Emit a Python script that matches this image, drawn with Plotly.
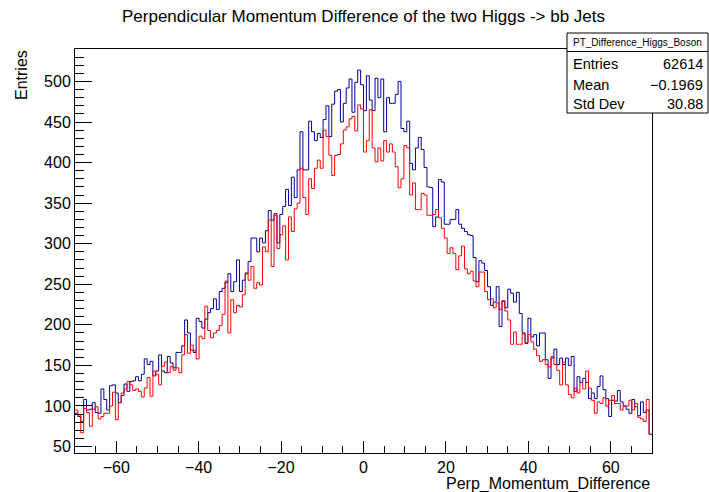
import numpy as np
import plotly.graph_objects as go

# ---------------- data ----------------
x_min, x_max, n_bins = -70.0, 70.0, 200

blue_counts = [
    91, 87, 81, 108, 95, 96, 104, 92, 91, 121,
    108, 95, 125, 126, 116, 104, 113, 127, 118, 130,
    131, 136, 131, 139, 158, 151, 155, 137, 143, 163,
    143, 141, 161, 153, 147, 166, 166, 174, 206, 190,
    169, 166, 208, 204, 196, 207, 215, 220, 232, 219,
    241, 245, 252, 263, 241, 253, 280, 241, 255, 263,
    278, 307, 307, 290,
    307, 301, 316, 341, 329, 337, 301, 336, 346, 367,
    347, 382, 357, 391, 438, 391, 391, 451, 438, 427,
    436, 431, 453, 470, 432, 472, 488, 490, 450, 473,
    492, 503, 462, 499, 514,
    496, 464, 507, 477, 464, 504, 480, 503, 438, 480,
    473, 473, 484, 500, 442, 438, 451, 399, 391, 418,
    431, 416, 394, 370, 369, 321, 333, 379, 376, 324,
    324, 330, 330, 342, 324,
    319, 315, 311, 310, 283, 253, 279, 276, 267, 247,
    224, 228, 247, 198, 229, 221, 244, 239, 228, 240,
    214, 190, 177, 208, 185, 188, 174, 190, 190, 157,
    134, 159, 170, 151, 159, 151, 159, 150, 161, 118,
    136, 129, 134, 129, 109, 116, 109, 124, 137, 120,
    109, 87, 107, 106, 119, 105, 100, 96, 91, 108,
    99, 88, 105, 92, 95, 65,
]

red_counts = [
    95, 89, 67, 97, 92, 75, 96, 99, 84, 87,
    91, 91, 100, 117, 83, 104, 116, 121, 130, 126,
    119, 121, 118, 111, 122, 135, 112, 143, 139, 126,
    149, 154, 141, 149, 144, 147, 141, 163, 188, 165,
    175, 168, 158, 186, 183, 223, 193, 184, 190, 193,
    199, 213, 254, 190, 231, 215, 224, 222, 237, 264,
    255, 272, 245, 252,
    249, 296, 290, 329, 272, 335, 294, 311, 322, 280,
    333, 315, 343, 350, 393, 357, 336, 380, 368, 393,
    403, 393, 440, 432, 409, 384, 409, 410, 423, 440,
    444, 454, 457, 439,
    471, 466, 413, 427, 465, 418, 401, 418, 402, 427,
    413, 423, 413, 395, 369, 380, 421, 418, 360, 375,
    342, 342, 362, 360, 335, 335, 336, 342, 332, 319,
    307, 288, 295, 288, 268, 285,
    297, 269, 263, 266, 254, 247, 265, 265, 241, 231,
    232, 221, 227, 219, 230, 217, 206, 176, 191, 176,
    176, 189, 178, 188, 179, 170, 162, 155, 157, 151,
    148, 161, 151, 144, 126, 154, 126, 114, 110, 122,
    116, 129, 121, 143, 122, 107, 91, 105, 103, 110,
    100, 107, 113, 103, 103, 95, 100, 100, 107, 95,
    103, 86, 84, 81, 108, 65,
]

x_tick_vals = [-60, -40, -20, 0, 20, 40, 60]
y_tick_vals = [50, 100, 150, 200, 250, 300, 350, 400, 450, 500]

title_text = "Perpendicular Momentum Difference of the two Higgs -> bb Jets"
x_title = "Perp_Momentum_Difference"
y_title = "Entries"
stats_name = "PT_Difference_Higgs_Boson"
stats_labels = ["Entries", "Mean", "Std Dev"]
stats_values = ["62614", "\u22120.1969", "30.88"]

# ---------------- figure ----------------
edges = np.linspace(x_min, x_max, n_bins + 1)


def step_points(counts):
    return list(edges), list(counts) + [counts[-1]]


FONT = "Liberation Sans, Arial, Helvetica, sans-serif"

fig = go.Figure()
bx, by = step_points(blue_counts)
fig.add_trace(go.Scatter(x=bx, y=by, mode="lines", line_shape="hv",
                         line=dict(color="#000099", width=1), hoverinfo="skip"))
rx, ry = step_points(red_counts)
fig.add_trace(go.Scatter(x=rx, y=ry, mode="lines", line_shape="hv",
                         line=dict(color="#ff0000", width=1), hoverinfo="skip"))

L, R, T, B = 75, 652, 49, 453
W, H = 709, 492
pw, ph = R - L, B - T


def px_x(px):
    return (px - L) / pw


def px_y(py):
    return (B - py) / ph


fig.update_layout(
    width=W, height=H,
    margin=dict(l=L, r=W - R, t=T, b=H - B, pad=0),
    plot_bgcolor="white", paper_bgcolor="white",
    showlegend=False,
    font=dict(family=FONT, color="black", size=16),
)

fig.update_xaxes(
    range=[x_min, x_max], tickvals=x_tick_vals,
    ticks="inside", ticklen=12, tickwidth=1, tickcolor="black",
    minor=dict(dtick=5, tick0=0, ticks="inside", ticklen=7, tickcolor="black", tickwidth=1),
    showline=True, linecolor="black", linewidth=1, mirror=True,
    showgrid=False, zeroline=False, tickfont=dict(size=16, family=FONT),
)
fig.update_yaxes(
    range=[42, 540], tickvals=y_tick_vals,
    ticks="inside", ticklen=17, tickwidth=1, tickcolor="black",
    minor=dict(dtick=10, tick0=0, ticks="inside", ticklen=9, tickcolor="black", tickwidth=1),
    showline=True, linecolor="black", linewidth=1, mirror=True,
    showgrid=False, zeroline=False, tickfont=dict(size=16, family=FONT),
)

annotations = [
    dict(text=title_text, xref="paper", yref="paper", x=px_x(363), y=px_y(17),
         xanchor="center", yanchor="middle", showarrow=False, font=dict(size=17, family=FONT)),
    dict(text=x_title, xref="paper", yref="paper", x=1.0, y=px_y(484),
         xanchor="right", yanchor="middle", showarrow=False, font=dict(size=16, family=FONT)),
    dict(text=y_title, xref="paper", yref="paper", x=px_x(22), y=px_y(75),
         xanchor="center", yanchor="middle", textangle=-90, showarrow=False,
         font=dict(size=16, family=FONT)),
    dict(text=stats_name, xref="paper", yref="paper", x=px_x(637), y=px_y(42.5),
         xanchor="center", yanchor="middle", showarrow=False, font=dict(size=10, family=FONT)),
]
for lab, val, yy in zip(stats_labels, stats_values, [64, 85.5, 104]):
    annotations.append(dict(text=lab, xref="paper", yref="paper", x=px_x(571), y=px_y(yy),
                            xanchor="left", yanchor="middle", showarrow=False,
                            font=dict(size=14.5, family=FONT)))
    annotations.append(dict(text=val, xref="paper", yref="paper", x=px_x(705), y=px_y(yy),
                            xanchor="right", yanchor="middle", showarrow=False,
                            font=dict(size=14.5, family=FONT)))
fig.update_layout(annotations=annotations)

fig.update_layout(shapes=[
    dict(type="rect", xref="paper", yref="paper", x0=px_x(567), x1=px_x(708),
         y0=px_y(113), y1=px_y(33), line=dict(color="black", width=1),
         fillcolor="white", layer="above"),
    dict(type="line", xref="paper", yref="paper", x0=px_x(567), x1=px_x(708),
         y0=px_y(51.5), y1=px_y(51.5), line=dict(color="black", width=1), layer="above"),
])

fig.write_html("out.html", config={"displayModeBar": False},
               post_script="document.body.style.margin='0';document.body.style.overflow='hidden';")
